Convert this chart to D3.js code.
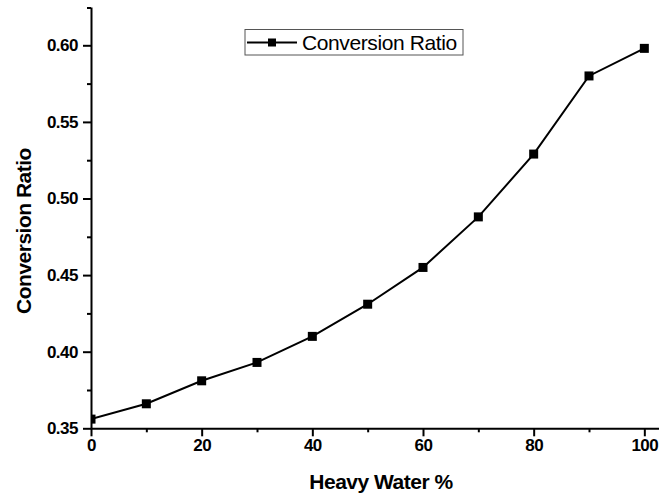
<!DOCTYPE html>
<html>
<head>
<meta charset="utf-8">
<script src="https://cdn.jsdelivr.net/npm/d3@7"></script>
<style>
  html, body { margin: 0; padding: 0; background: #fff; }
  svg { display: block; }
  text { font-family: "Liberation Sans", Arial, sans-serif; }
</style>
</head>
<body>
<svg id="chart" width="659" height="493"></svg>
<script>
const heavyWater = [0, 10, 20, 30, 40, 50, 60, 70, 80, 90, 100];
const conversionRatio = [0.356, 0.366, 0.381, 0.393, 0.410, 0.431, 0.455, 0.488, 0.529, 0.580, 0.598];
const xTicks = [0, 20, 40, 60, 80, 100];
const xMinorTicks = [10, 30, 50, 70, 90];
const yTicks = [0.35, 0.40, 0.45, 0.50, 0.55, 0.60];
const yMinorTicks = [0.375, 0.425, 0.475, 0.525, 0.575];
const seriesName = "Conversion Ratio";
const xTitle = "Heavy Water %";
const yTitle = "Conversion Ratio";

const svg = d3.select("#chart");
const x = d3.scaleLinear().domain([0, 105]).range([91, 672]);
const y = d3.scaleLinear().domain([0.35, 0.625]).range([428.3, 7]);

// clip for plot marks
svg.append("defs").append("clipPath").attr("id", "plotClip")
  .append("rect").attr("x", 91).attr("y", 0).attr("width", 600).attr("height", 429);

const plot = svg.append("g").attr("clip-path", "url(#plotClip)");

plot.append("path")
  .datum(heavyWater.map((d, i) => [d, conversionRatio[i]]))
  .attr("fill", "none").attr("stroke", "#000").attr("stroke-width", 2)
  .attr("d", d3.line().x(d => x(d[0])).y(d => y(d[1])));

const ms = 9;
plot.selectAll("rect.m").data(heavyWater.map((d, i) => [d, conversionRatio[i]]))
  .enter().append("rect").attr("class", "m")
  .attr("x", d => x(d[0]) - ms / 2).attr("y", d => y(d[1]) - ms / 2)
  .attr("width", ms).attr("height", ms).attr("fill", "#000");

// axes
function styleAxis(g) {
  g.selectAll(".domain").attr("stroke", "#000").attr("stroke-width", 2);
  g.selectAll(".tick line").attr("stroke", "#000").attr("stroke-width", 2);
  g.selectAll(".tick text").attr("fill", "#000")
    .style("font-family", '"Liberation Sans", Arial, sans-serif')
    .style("font-weight", "bold").style("font-size", "17px").style("letter-spacing", "-0.5px");
}

const xAxis = svg.append("g").attr("transform", `translate(0,${y(0.35)})`)
  .call(d3.axisBottom(x).tickValues(xTicks).tickSize(8).tickSizeOuter(0).tickPadding(3).tickFormat(d3.format("d")));
styleAxis(xAxis);
const xMinor = svg.append("g").attr("transform", `translate(0,${y(0.35)})`)
  .call(d3.axisBottom(x).tickValues(xMinorTicks).tickSize(4).tickFormat(""));
xMinor.select(".domain").remove();
styleAxis(xMinor);

const yAxis = svg.append("g").attr("transform", `translate(${x(0)},0)`)
  .call(d3.axisLeft(y).tickValues(yTicks).tickSize(8).tickSizeOuter(0).tickPadding(5).tickFormat(d3.format(".2f")));
styleAxis(yAxis);
const yMinor = svg.append("g").attr("transform", `translate(${x(0)},0)`)
  .call(d3.axisLeft(y).tickValues(yMinorTicks).tickSize(4).tickFormat(""));
yMinor.select(".domain").remove();
styleAxis(yMinor);
// tick at the top end of y axis
svg.append("line").attr("x1", x(0) - 4).attr("x2", x(0)).attr("y1", y(0.625) + 1).attr("y2", y(0.625) + 1)
  .attr("stroke", "#000").attr("stroke-width", 2);

// titles
svg.append("text").attr("x", 381).attr("y", 489).attr("text-anchor", "middle")
  .style("font-weight", "bold").style("font-size", "21px").style("letter-spacing", "-0.5px")
  .text(xTitle);
svg.append("text").attr("transform", "translate(31,231) rotate(-90)").attr("text-anchor", "middle")
  .style("font-weight", "bold").style("font-size", "21px").style("letter-spacing", "-0.5px")
  .text(yTitle);

// legend
const lg = svg.append("g");
lg.append("rect").attr("x", 245).attr("y", 29.5).attr("width", 218).attr("height", 25.5)
  .attr("fill", "#fff").attr("stroke", "#555").attr("stroke-width", 1);
lg.append("line").attr("x1", 247).attr("x2", 297).attr("y1", 42.5).attr("y2", 42.5)
  .attr("stroke", "#000").attr("stroke-width", 2);
lg.append("rect").attr("x", 268).attr("y", 38.5).attr("width", 8).attr("height", 8).attr("fill", "#000");
lg.append("text").attr("x", 302).attr("y", 50).style("font-size", "21px").style("letter-spacing", "-0.4px")
  .text(seriesName);
</script>
</body>
</html>
